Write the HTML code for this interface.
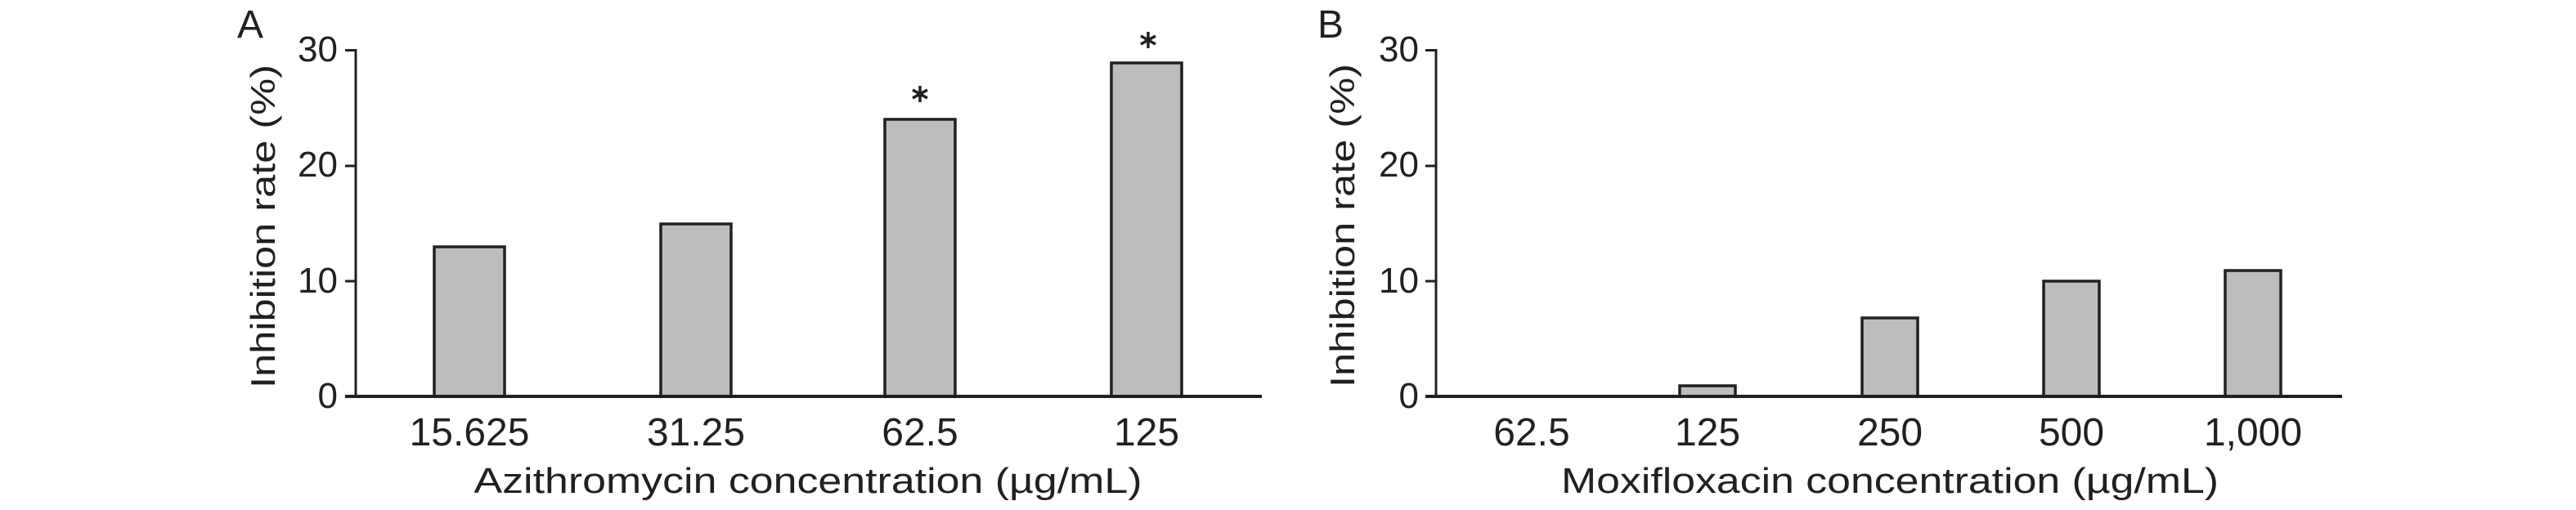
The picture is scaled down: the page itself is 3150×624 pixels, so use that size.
<!DOCTYPE html>
<html><head><meta charset="utf-8"><style>html,body{margin:0;padding:0;background:#fff;}svg{display:block}</style></head>
<body>
<svg width="3150" height="624" viewBox="0 0 3150 624" xmlns="http://www.w3.org/2000/svg" font-family="Liberation Sans, sans-serif" fill="#231f20">
<!-- Panel A -->
<text x="290" y="46" font-size="48">A</text>
<text transform="translate(336,277) rotate(-90)" font-size="42" text-anchor="middle" textLength="396" lengthAdjust="spacingAndGlyphs">Inhibition rate (%)</text>
<g font-size="44" text-anchor="end">
<text x="413" y="75">30</text><text x="413" y="216">20</text><text x="413" y="358">10</text><text x="413" y="499">0</text>
</g>
<g stroke="#231f20" stroke-width="3">
<line x1="435" y1="60" x2="435" y2="486"/>
<line x1="422" y1="61.5" x2="435" y2="61.5"/><line x1="422" y1="203" x2="435" y2="203"/><line x1="422" y1="344" x2="435" y2="344"/><line x1="422" y1="485" x2="435" y2="485"/>
</g>
<g fill="#bdbdbd" stroke="#231f20" stroke-width="3.5">
<rect x="531" y="302" width="86" height="183"/>
<rect x="808" y="274" width="86" height="211"/>
<rect x="1082" y="146" width="86" height="339"/>
<rect x="1359" y="77" width="86" height="408"/>
</g>
<line x1="422" y1="485" x2="1543" y2="485" stroke="#231f20" stroke-width="4"/>
<g stroke="#231f20" stroke-width="3.5">
<g transform="translate(1125,115)"><line x1="0" y1="-10" x2="0" y2="10"/><line x1="-9" y1="-5" x2="9" y2="5"/><line x1="-9" y1="5" x2="9" y2="-5"/></g>
<g transform="translate(1404,49)"><line x1="0" y1="-10" x2="0" y2="10"/><line x1="-9" y1="-5" x2="9" y2="5"/><line x1="-9" y1="5" x2="9" y2="-5"/></g>
</g>
<g font-size="48" text-anchor="middle">
<text x="574" y="545">15.625</text><text x="851" y="545">31.25</text><text x="1125" y="545">62.5</text><text x="1402" y="545">125</text>
</g>
<text x="988" y="603" font-size="44" text-anchor="middle" textLength="817" lengthAdjust="spacingAndGlyphs">Azithromycin concentration (µg/mL)</text>

<!-- Panel B -->
<text x="1611" y="46" font-size="48">B</text>
<text transform="translate(1656,276) rotate(-90)" font-size="42" text-anchor="middle" textLength="396" lengthAdjust="spacingAndGlyphs">Inhibition rate (%)</text>
<g font-size="44" text-anchor="end">
<text x="1735" y="75">30</text><text x="1735" y="216">20</text><text x="1735" y="358">10</text><text x="1735" y="499">0</text>
</g>
<g stroke="#231f20" stroke-width="3">
<line x1="1756" y1="60" x2="1756" y2="486"/>
<line x1="1743" y1="61.5" x2="1756" y2="61.5"/><line x1="1743" y1="203" x2="1756" y2="203"/><line x1="1743" y1="344" x2="1756" y2="344"/><line x1="1743" y1="485" x2="1756" y2="485"/>
</g>
<g fill="#bdbdbd" stroke="#231f20" stroke-width="3.5">
<rect x="2054" y="472" width="68" height="13"/>
<rect x="2277" y="389" width="68" height="96"/>
<rect x="2499" y="344" width="68" height="141"/>
<rect x="2721" y="331" width="68" height="154"/>
</g>
<line x1="1743" y1="485" x2="2864" y2="485" stroke="#231f20" stroke-width="4"/>
<g font-size="48" text-anchor="middle">
<text x="1873" y="545">62.5</text><text x="2088" y="545">125</text><text x="2311" y="545">250</text><text x="2533" y="545">500</text><text x="2755" y="545">1,000</text>
</g>
<text x="2311" y="603" font-size="44" text-anchor="middle" textLength="804" lengthAdjust="spacingAndGlyphs">Moxifloxacin concentration (µg/mL)</text>
</svg>
</body></html>
